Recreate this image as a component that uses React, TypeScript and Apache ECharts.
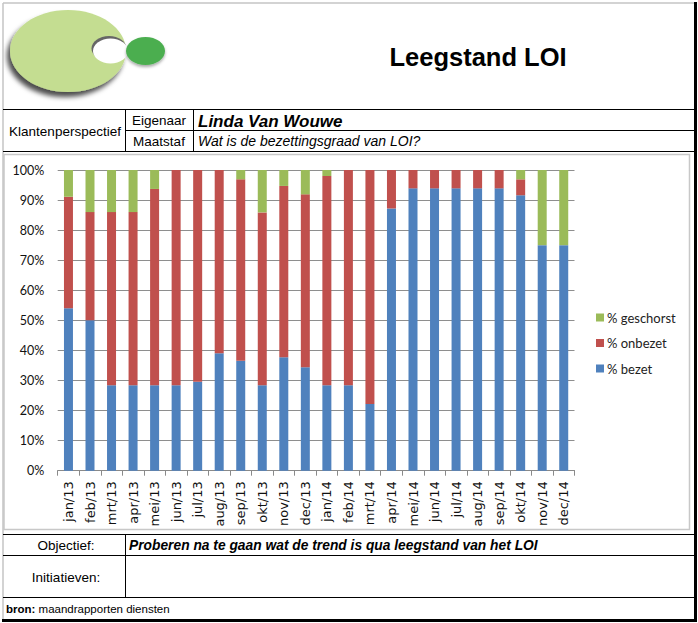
import React, { useEffect, useRef } from "react";
import * as echarts from "echarts";

const months = [
  "jan/13", "feb/13", "mrt/13", "apr/13", "mei/13", "jun/13", "jul/13", "aug/13", "sep/13", "okt/13", "nov/13", "dec/13",
  "jan/14", "feb/14", "mrt/14", "apr/14", "mei/14", "jun/14", "jul/14", "aug/14", "sep/14", "okt/14", "nov/14", "dec/14",
];
const bezet = [54, 50, 28.4, 28.4, 28.4, 28.4, 29.6, 39.1, 36.6, 28.4, 37.7, 34.4, 28.4, 28.4, 22.2, 87.2, 93.9, 93.9, 93.9, 93.9, 93.9, 91.6, 75, 75];
const onbezet = [37.1, 36, 57.6, 57.6, 65.3, 71.6, 70.4, 60.9, 60.3, 57.5, 57, 57.5, 69.6, 71.6, 77.8, 12.8, 6.1, 6.1, 6.1, 6.1, 6.1, 5.3, 0, 0];
const geschorst = [8.9, 14, 14, 14, 6.3, 0, 0, 0, 3.1, 14.1, 5.3, 8.1, 2, 0, 0, 0, 0, 0, 0, 0, 0, 3.1, 25, 25];
const yTicks = { min: 0, max: 100, interval: 10 };
const seriesNames = ["% bezet", "% onbezet", "% geschorst"];

const title = "Leegstand LOI";
const perspectief = "Klantenperspectief";
const eigenaarLabel = "Eigenaar";
const eigenaar = "Linda Van Wouwe";
const maatstafLabel = "Maatstaf";
const maatstaf = "Wat is de bezettingsgraad van LOI?";
const objectiefLabel = "Objectief:";
const objectief = "Proberen na te gaan wat de trend is qua leegstand van het LOI";
const initiatievenLabel = "Initiatieven:";
const bronLabel = "bron:";
const bron = "maandrapporten diensten";

const ARIAL = "'Liberation Sans', Arial, sans-serif";

function line(x1: number, y1: number, x2: number, y2: number, color = "#000", w = 1) {
  return { type: "line", shape: { x1, y1, x2, y2 }, style: { stroke: color, lineWidth: w }, silent: true };
}

export default function App() {
  const ref = useRef<HTMLDivElement>(null);
  useEffect(() => {
    if (!ref.current) return;
    const chart = echarts.init(ref.current, undefined, { renderer: "svg" });
    const colors = ["#4F81BD", "#C0504D", "#9BBB59"];
    const values = [bezet, onbezet, geschorst];
    chart.setOption({
      animation: false,
      backgroundColor: "#fff",
      color: colors,
      grid: { left: 57.7, right: 123.5, top: 170, bottom: 152.3, containLabel: false },
      legend: {
        orient: "vertical",
        left: 596,
        top: 310.5,
        padding: 0,
        data: [seriesNames[2], seriesNames[1], seriesNames[0]],
        icon: "rect",
        itemWidth: 8,
        itemHeight: 8,
        itemGap: 11.5,
        textStyle: { fontFamily: "Lato", fontSize: 13, color: "#222", lineHeight: 14, padding: [0, 0, 0, -2] },
      },
      xAxis: {
        type: "category",
        data: months,
        axisLine: { lineStyle: { color: "#8a8a8a", width: 1 } },
        axisTick: { show: true, length: 5, interval: 0, lineStyle: { color: "#8a8a8a" } },
        axisLabel: { rotate: 90, interval: 0, margin: 10.5, fontFamily: "'DejaVu Sans'", fontSize: 13, color: "#111" },
      },
      yAxis: {
        type: "value",
        min: yTicks.min,
        max: yTicks.max,
        interval: yTicks.interval,
        axisLine: { show: false },
        axisTick: { show: false },
        splitLine: { lineStyle: { color: "#8e8e8e", width: 1 } },
        axisLabel: { formatter: "{value}%", margin: 13.5, fontFamily: "Lato", fontSize: 12.5, color: "#111" },
      },
      series: seriesNames.map((name, i) => ({
        name,
        type: "bar",
        stack: "total",
        barWidth: 9,
        data: values[i],
      })),
      graphic: [
        // logo
        {
          type: "ellipse",
          shape: { cx: 68, cy: 51, rx: 58, ry: 41 },
          style: { fill: "#C4DD91", shadowColor: "rgba(0,0,0,0.7)", shadowBlur: 5, shadowOffsetX: -3, shadowOffsetY: 5 },
          silent: true,
        },
        { type: "ellipse", shape: { cx: 109, cy: 48.5, rx: 17.5, ry: 12.5 }, style: { fill: "#666" }, silent: true },
        { type: "ellipse", shape: { cx: 110.5, cy: 51, rx: 17.5, ry: 12.5 }, style: { fill: "#ffffff" }, silent: true },
        {
          type: "ellipse",
          shape: { cx: 145.5, cy: 51, rx: 19.5, ry: 14 },
          style: { fill: "#4BAE4F", shadowColor: "rgba(0,0,0,0.35)", shadowBlur: 3, shadowOffsetX: 0, shadowOffsetY: 2 },
          silent: true,
        },
        // title
        {
          type: "text", x: 478, y: 57,
          style: { text: title, font: `bold 25.5px ${ARIAL}`, fill: "#000", align: "center", verticalAlign: "middle" },
        },
        // frame
        line(3, 3, 695, 3, "#c4c4c4", 1.5),
        line(3, 3, 3, 620, "#c4c4c4", 1.5),
        line(695.5, 2, 695.5, 622, "#000", 3),
        line(2, 620.5, 697, 620.5, "#000", 3),
        // header table
        line(3, 109.5, 695, 109.5),
        line(126, 130.5, 695, 130.5),
        line(3, 151.5, 695, 151.5),
        line(125.5, 109.5, 125.5, 151.5),
        line(193.5, 109.5, 193.5, 151.5),
        {
          type: "text", x: 65, y: 131,
          style: { text: perspectief, font: `13.5px ${ARIAL}`, fill: "#000", align: "center", verticalAlign: "middle" },
        },
        {
          type: "text", x: 159, y: 120.5,
          style: { text: eigenaarLabel, font: `13.5px ${ARIAL}`, fill: "#000", align: "center", verticalAlign: "middle" },
        },
        {
          type: "text", x: 159, y: 141,
          style: { text: maatstafLabel, font: `13.5px ${ARIAL}`, fill: "#000", align: "center", verticalAlign: "middle" },
        },
        {
          type: "text", x: 198, y: 121,
          style: { text: eigenaar, font: `italic bold 17px ${ARIAL}`, fill: "#000", align: "left", verticalAlign: "middle" },
        },
        {
          type: "text", x: 198, y: 141,
          style: { text: maatstaf, font: `italic 14px ${ARIAL}`, fill: "#000", align: "left", verticalAlign: "middle" },
        },
        // chart box
        {
          type: "rect", shape: { x: 4, y: 154.5, width: 685.5, height: 375 },
          style: { fill: "none", stroke: "#c8c8c8", lineWidth: 1.5 }, silent: true, z: -1,
        },
        // bottom table
        line(3, 534.5, 695, 534.5),
        line(3, 555.5, 695, 555.5),
        line(3, 597.5, 695, 597.5),
        line(125.5, 534.5, 125.5, 597.5),
        {
          type: "text", x: 66, y: 545,
          style: { text: objectiefLabel, font: `13.5px ${ARIAL}`, fill: "#000", align: "center", verticalAlign: "middle" },
        },
        {
          type: "text", x: 129, y: 545,
          style: { text: objectief, font: `italic bold 13.8px ${ARIAL}`, fill: "#000", align: "left", verticalAlign: "middle" },
        },
        {
          type: "text", x: 66, y: 577,
          style: { text: initiatievenLabel, font: `13.5px ${ARIAL}`, fill: "#000", align: "center", verticalAlign: "middle" },
        },
        {
          type: "text", x: 6, y: 608.5,
          style: {
            text: `{b|${bronLabel}} ${bron}`,
            font: `11.5px ${ARIAL}`, fill: "#000", align: "left", verticalAlign: "middle",
            rich: { b: { fontWeight: "bold", fontSize: 11.5, fontFamily: ARIAL } },
          },
        },
      ],
    });
    return () => chart.dispose();
  }, []);
  return (
    <div
      ref={ref}
      style={{ position: "absolute", left: 0, top: 0, width: 698, height: 623, background: "#fff" }}
    />
  );
}
